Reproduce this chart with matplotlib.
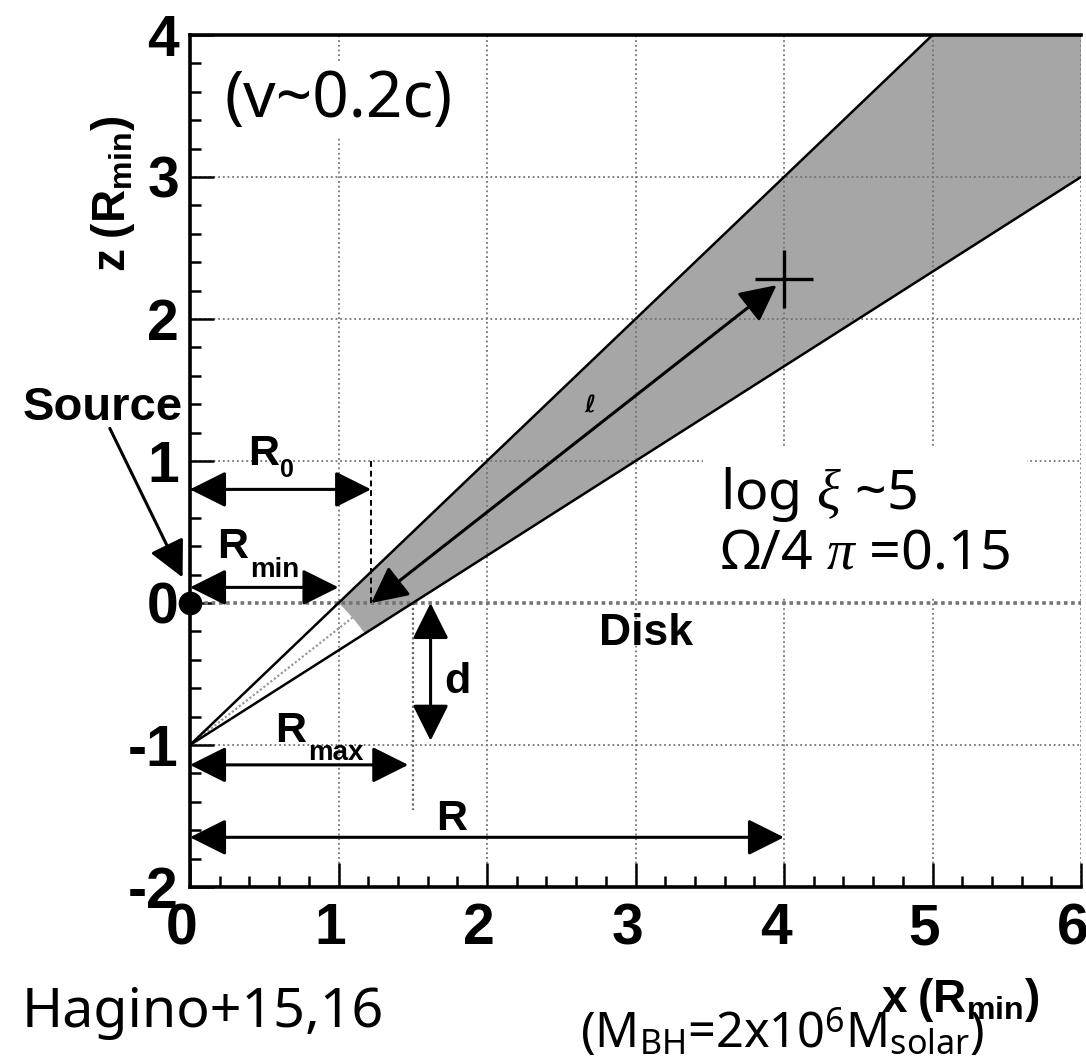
import numpy as np
import matplotlib
matplotlib.use("Agg")
import matplotlib.pyplot as plt
from matplotlib.patches import Polygon, FancyArrowPatch
from matplotlib.transforms import ScaledTranslation

# ---- geometry (lengths in units of R_min) ----
source_xz = (0.0, -1.0)   # point source, a height d below the disk
r_min = 1.0               # inner launching radius
r_max = 1.5               # outer launching radius
r_far = 4.0               # distance R of the observing point
d_height = 1.0            # d
x_lim = (0.0, 6.0)
z_lim = (-2.0, 4.0)
x_ticks = [0, 1, 2, 3, 4, 5, 6]
z_ticks = [-2, -1, 0, 1, 2, 3, 4]

plt.rcParams['axes.unicode_minus'] = False
plt.rcParams['mathtext.fontset'] = 'custom'
plt.rcParams['mathtext.bf'] = 'Liberation Sans:bold'
plt.rcParams['mathtext.rm'] = 'Noto Sans'
plt.rcParams['mathtext.it'] = 'Liberation Serif:italic'

BOLD = dict(family='Liberation Sans', weight='bold', color='black')
SANS = dict(family=['Noto Sans', 'DejaVu Sans'], color='black')

fig = plt.figure(figsize=(10.86, 10.61), dpi=100)
ax = fig.add_axes([190 / 1086, 174 / 1061, 891 / 1086, 852 / 1061])
ax.set_xlim(*x_lim)
ax.set_ylim(*z_lim)

sx, sz = source_xz
th_up = np.arctan2(0 - sz, r_min - sx)       # ray through the inner edge
th_lo = np.arctan2(0 - sz, r_max - sx)       # ray through the outer edge
th_c = 0.5 * (th_up + th_lo)                 # central streamline
r_0 = sx + d_height / np.tan(th_c)           # where the centre crosses the disk
rho = np.hypot(r_min - sx, 0 - sz)           # launching distance from source

# ends of the two bounding rays at the frame
x_up_end = sx + (z_lim[1] - sz) / np.tan(th_up)
z_lo_end = sz + (x_lim[1] - sx) * np.tan(th_lo)

# shaded wind cone
arc_t = np.linspace(th_up, th_lo, 30)
arc = np.column_stack([sx + rho * np.cos(arc_t), sz + rho * np.sin(arc_t)])
poly = np.vstack([arc, [[x_lim[1], z_lo_end], [x_lim[1], z_lim[1]], [x_up_end, z_lim[1]]]])
ax.add_patch(Polygon(poly, closed=True, facecolor='#a6a6a6', edgecolor='none', zorder=1))

# grid
for xv in x_ticks[1:]:
    ax.axvline(xv, color='0.45', lw=1.3, ls=(0, (1, 1.6)), zorder=1.5)
for zv in z_ticks[1:-1]:
    if zv == 0:
        continue
    ax.axhline(zv, color='0.45', lw=1.3, ls=(0, (1, 1.6)), zorder=1.5)
# disk plane
ax.axhline(0, color='0.45', lw=2.6, ls=(0, (1, 1.0)), zorder=1.6)

# bounding rays
ax.plot([sx, x_up_end], [sz, z_lim[1]], color='k', lw=1.8, zorder=3)
ax.plot([sx, x_lim[1]], [sz, z_lo_end], color='k', lw=1.8, zorder=3)
# central ray below the launching surface
ax.plot([sx, sx + rho * np.cos(th_c)], [sz, sz + rho * np.sin(th_c)],
        color='0.6', lw=1.6, ls=(0, (1, 1)), zorder=2)

# guide lines
ax.plot([r_0, r_0], [0, 1], color='k', lw=1.4, ls=(0, (3, 2)), zorder=2)
ax.plot([r_max, r_max], [0, -1.46], color='0.4', lw=1.6, ls=(0, (1, 1.2)), zorder=2)


def arrow(p1, p2, style='<|-|>', clip=True):
    a = FancyArrowPatch(p1, p2, arrowstyle=f'{style},head_length=0.4,head_width=0.2',
                        mutation_scale=56, lw=2.2, color='k', shrinkA=0, shrinkB=0,
                        zorder=4, clip_on=clip)
    ax.add_patch(a)


arrow((0, 0.80), (r_0, 0.80))             # R_0
arrow((0, 0.11), (r_min, 0.11))           # R_min
arrow((0, -1.14), (r_max - 0.03, -1.14))  # R_max
arrow((0, -1.65), (r_far, -1.65))         # R
arrow((r_max + 0.12, 0), (r_max + 0.12, -0.97))  # d
# path length l along the central streamline
x_end = r_far - 0.05
arrow((x_end, sz + (x_end - sx) * np.tan(th_c)), (r_0, 0))
arrow((-0.54, 1.23), (-0.05, 0.18), style='-|>', clip=False)  # Source pointer

# source and observing point
ax.plot([sx], [0], 'o', color='k', ms=16, clip_on=False, zorder=5)
ax.plot([r_far], [sz + (r_far - sx) * np.tan(th_c)], '+', color='k', ms=42, mew=2.4, zorder=5)


def r_label(x, z, sub, dx, dy, sub_size=20):
    ax.text(x, z, 'R', fontsize=31, ha='left', va='baseline', zorder=6, **BOLD)
    ax.annotate(sub, (x, z), xytext=(dx, dy), textcoords='offset points',
                fontsize=sub_size, ha='left', va='baseline', zorder=6, **BOLD)


r_label(0.392, 0.972, '0', 23, -9, sub_size=18)
r_label(0.182, 0.317, 'min', 23.5, -13.5)
r_label(0.574, -0.979, 'max', 23.5, -13)
ax.text(1.655, -1.599, 'R', fontsize=31, ha='left', va='baseline', zorder=6, **BOLD)
ax.text(1.71, -0.634, 'd', fontsize=31, ha='left', va='baseline', zorder=6, **BOLD)
ax.text(3.07, -0.296, 'Disk', fontsize=32, ha='center', va='baseline', zorder=6, **BOLD)
ax.text(-0.05, 1.29, 'Source', fontsize=34, ha='right', va='baseline', zorder=6,
        clip_on=False, **BOLD)
ax.text(2.69, 1.39, '\u2113', fontsize=17, ha='center', va='center', zorder=6,
        family='DejaVu Sans', style='italic', weight='bold')

# annotations in the plot
ax.text(0.23, 3.54, '(v~0.2c)', fontsize=46, ha='left', va='center', zorder=6,
        bbox=dict(facecolor='white', edgecolor='none', pad=4), **SANS)
ax.text(3.57, 0.246, 'log $\\xi$ ~5\n\u03a9/4 $\\pi$ =0.15', fontsize=40,
        ha='left', va='baseline', linespacing=1.05, zorder=6,
        bbox=dict(facecolor='white', edgecolor='none', pad=12), **SANS)

# axes styling
for side in ('left', 'bottom', 'top'):
    ax.spines[side].set_linewidth(2.6)
ax.spines['right'].set_visible(False)
ax.set_xticks(x_ticks)
ax.set_yticks(z_ticks)
ax.set_xticks(np.arange(x_lim[0], x_lim[1] + 1e-9, 0.2), minor=True)
ax.set_yticks(np.arange(z_lim[0], z_lim[1] + 1e-9, 0.2), minor=True)
ax.tick_params(which='both', direction='in', top=False, right=False, width=1.8)
ax.tick_params(which='major', length=17)
ax.tick_params(which='minor', length=8)
ax.tick_params(axis='x', pad=11)
ax.tick_params(axis='y', pad=8)
for lab in ax.get_xticklabels() + ax.get_yticklabels():
    lab.set_fontfamily('Liberation Sans')
    lab.set_fontweight('bold')
    lab.set_fontsize(41)
for lab in ax.get_xticklabels():
    lab.set_transform(lab.get_transform() + ScaledTranslation(-6 / 72, 0, fig.dpi_scale_trans))

fig.text(1040 / 1086, (1061 - 1012) / 1061, r'$\mathbf{x\ (R_{min})}$', fontsize=33,
         ha='right', va='baseline')
fig.text(113 / 1086, (1061 - 194) / 1061, r'$\mathbf{z\ (R_{min})}$', fontsize=33,
         ha='center', va='center', rotation=90)
fig.text(22 / 1086, (1061 - 1027) / 1061, 'Hagino+15,16', fontsize=40,
         ha='left', va='baseline', **SANS)
fig.text(580 / 1086, (1061 - 1048) / 1061,
         '(M$_\\mathrm{BH}$=2x10$^\\mathrm{6}$M$_\\mathrm{solar}$)',
         fontsize=35, ha='left', va='baseline', **SANS)

fig.savefig('out.png', dpi=100, facecolor='white')
